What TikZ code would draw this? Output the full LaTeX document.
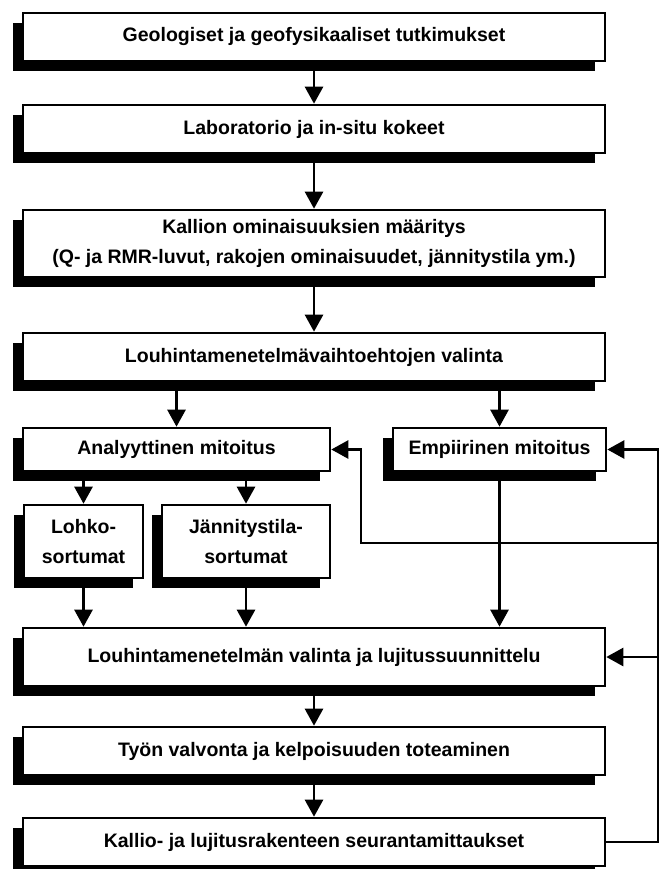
\documentclass[tikz,border=0pt]{standalone}
\usepackage{fontspec}
\setmainfont{Liberation Sans}
\usepackage{tikz}
\usetikzlibrary{arrows.meta,calc,positioning,shadows}

\tikzset{
  laatikko/.style={draw,line width=2.6pt,fill=white,align=center,inner sep=0pt,
    font=\fontsize{19.5}{30}\selectfont\bfseries,
    drop shadow={shadow xshift=-10pt,shadow yshift=-10pt,opacity=1,fill=black}},
  pil/.style={line width=2.6pt,-{Triangle[width=18pt,length=17pt]}},
}

\begin{document}
\begin{tikzpicture}[x=1pt,y=-1pt]
  \useasboundingbox (0,0) rectangle (660,869);
  % paalaatikot
  \node[laatikko,minimum width=582pt,minimum height=48pt] (geo) at (314,37){Geologiset ja geofysikaaliset tutkimukset};
  \node[laatikko,minimum width=582pt,minimum height=48pt] (lab) at (314,129){Laboratorio ja in-situ kokeet};
  \node[laatikko,minimum width=582pt,minimum height=67pt] (kal) at (314,243.5){Kallion ominaisuuksien määritys\\(Q- ja RMR-luvut, rakojen ominaisuudet, jännitystila ym.)};
  \node[laatikko,minimum width=582pt,minimum height=48pt] (vaih) at (314,357){Louhintamenetelmävaihtoehtojen valinta};
  \node[laatikko,minimum width=307pt,minimum height=43pt] (anal) at (176.5,449.5){Analyyttinen mitoitus};
  \node[laatikko,minimum width=213pt,minimum height=43pt] (emp) at (499.5,449.5){Empiirinen mitoitus};
  \node[laatikko,minimum width=119pt,minimum height=73pt] (lohko) at (83.5,541.5){Lohko-\\sortumat};
  \node[laatikko,minimum width=168pt,minimum height=73pt] (jann) at (246,541.5){Jännitystila-\\sortumat};
  \node[laatikko,minimum width=582pt,minimum height=58pt] (valinta) at (314,657){Louhintamenetelmän valinta ja lujitussuunnittelu};
  \node[laatikko,minimum width=582pt,minimum height=48pt] (tyo) at (314,751){Työn valvonta ja kelpoisuuden toteaminen};
  \node[laatikko,minimum width=582pt,minimum height=48pt] (seur) at (314,842){Kallio- ja lujitusrakenteen seurantamittaukset};
  % nuolet
  \draw[pil] (geo.south) -- (lab.north);
  \draw[pil] (lab.south) -- (kal.north);
  \draw[pil] (kal.south) -- (vaih.north);
  \draw[pil] (vaih.south -| anal) -- (anal.north);
  \draw[pil] (vaih.south -| emp) -- (emp.north);
  \draw[pil] (anal.south -| lohko) -- (lohko.north);
  \draw[pil] (anal.south -| jann) -- (jann.north);
  \draw[pil] (lohko.south) -- (valinta.north -| lohko);
  \draw[pil] (jann.south) -- (valinta.north -| jann);
  \draw[pil] (emp.south) -- (valinta.north -| emp);
  \draw[pil] (valinta.south) -- (tyo.north);
  \draw[pil] (tyo.south) -- (seur.north);
  % takaisinkytkenta
  \coordinate (oik) at (658,543);
  \coordinate (haara) at (361,543);
  \draw[pil] (seur.east) -| (oik) |- (emp.east);
  \draw[pil] (valinta.east -| oik) -- (valinta.east);
  \draw[pil] (oik) -- (haara) |- (anal.east);
\end{tikzpicture}
\end{document}
